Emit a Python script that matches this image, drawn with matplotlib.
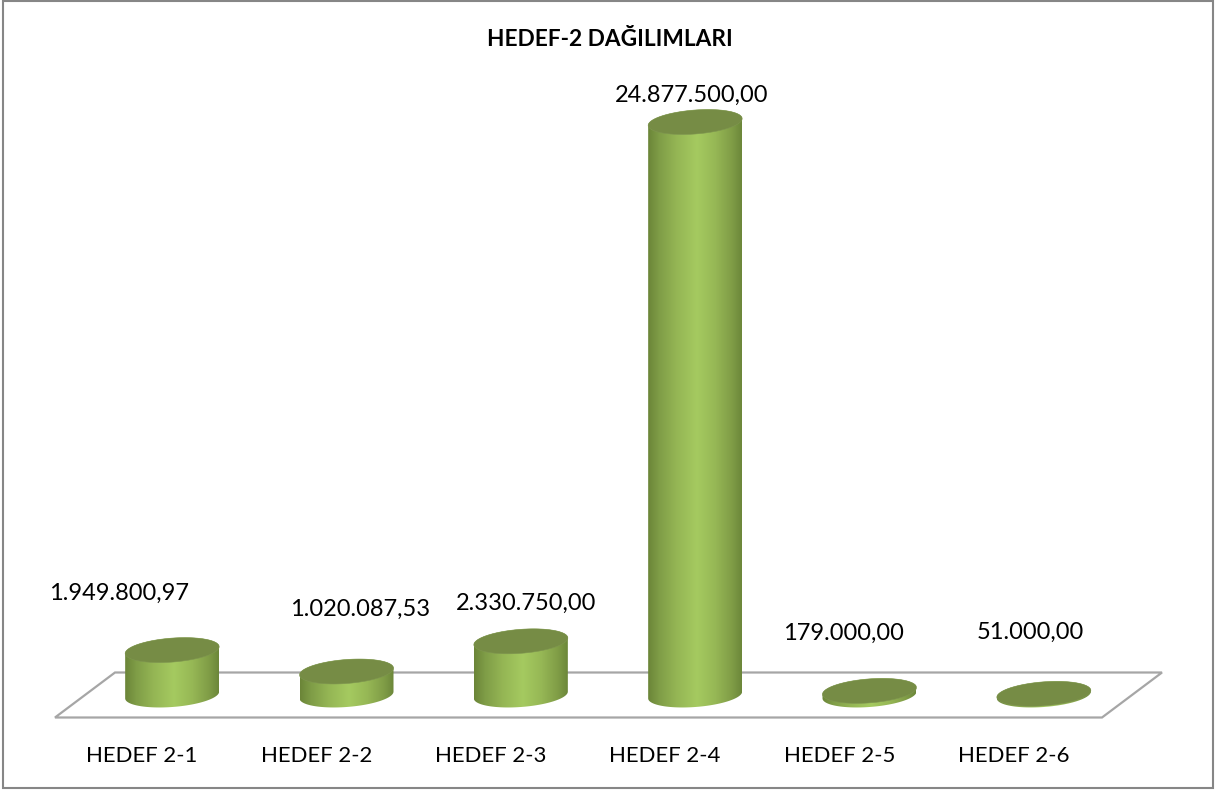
import numpy as np
import matplotlib
matplotlib.use("Agg")
import matplotlib.pyplot as plt
from matplotlib.colors import LinearSegmentedColormap
from matplotlib.patches import Polygon, Rectangle
from matplotlib.transforms import Affine2D

categories = ["HEDEF 2-1", "HEDEF 2-2", "HEDEF 2-3", "HEDEF 2-4", "HEDEF 2-5", "HEDEF 2-6"]
values = [1949800.97, 1020087.53, 2330750.00, 24877500.00, 179000.00, 51000.00]
title = "HEDEF-2 DAĞILIMLARI"

W, H = 1215, 790
plt.rcParams['font.family'] = ['Lato', 'DejaVu Sans']
fig = plt.figure(figsize=(W / 100, H / 100), dpi=100, facecolor="white")

# top-left pixel space helper
px = Affine2D().scale(1, -1).translate(0, H)

X0, X1, Y_BASE, Y_TOP = 85, 1131, 695, 122
ax = fig.add_axes([X0 / W, 1 - Y_BASE / H, (X1 - X0) / W, (Y_BASE - Y_TOP) / H])
ax.set_xlim(-0.5, 5.5)
ax.set_ylim(0, max(values))
ax.patch.set_alpha(0)
for s in ax.spines.values():
    s.set_visible(False)
ax.set_yticks([])
x_pos = np.arange(len(categories))
ax.set_xticks(x_pos - 30 / 174.4)
ax.set_xticklabels(categories, fontsize=15.9, color="black")
ax.tick_params(axis="x", length=0, pad=37)

# outer frame
fig.add_artist(Rectangle((3, 1), 1210, 787, transform=px, fill=False,
                         edgecolor="#868686", linewidth=1.5))
# floor
ax.add_patch(Polygon([(55, 717.5), (115, 672.5), (1162, 672.5), (1102, 717.5)], closed=True,
                     transform=px, fill=False, edgecolor="#a6a6a6", linewidth=1.6,
                     clip_on=False, zorder=1))

cmap = LinearSegmentedColormap.from_list("cyl", [
    (0.0, "#6b8538"), (0.12, "#7f9d47"), (0.3, "#94b554"), (0.52, "#a5ca60"),
    (0.72, "#96b755"), (0.9, "#7f9c46"), (1.0, "#6c873a")])
grad = np.linspace(0, 1, 256)[None, :]

A, B, SLOPE = 47.0, 12.0, 0.072
t_top = np.linspace(0, 2 * np.pi, 160)


def ell(cx, cy, t):
    return np.column_stack([cx + A * np.cos(t), cy - A * SLOPE * np.cos(t) + B * np.sin(t)])


for i, v in enumerate(values):
    to_disp = ax.transData.transform
    base_x, base_y = to_disp((i, 0))
    top_x, top_y = to_disp((i, v))
    cx = base_x
    cy_b = H - base_y
    cy_t = H - top_y
    lower = ell(cx, cy_b, np.linspace(np.pi, 0, 80))  # bottom arc, left to right
    upper = ell(cx, cy_t, np.linspace(0, -np.pi, 80))  # top arc, right to left
    body = Polygon(np.vstack([lower, upper]), closed=True, transform=px, facecolor="none",
                   edgecolor="none")
    ax.add_patch(body)
    body.set_clip_on(False)
    im = ax.imshow(grad, cmap=cmap, aspect="auto", interpolation="bilinear",
                   extent=(cx - A, cx + A, cy_b + 20, cy_t - 20), transform=px, zorder=2)
    im.set_clip_box(fig.bbox)
    im.set_clip_path(body)
    ax.add_patch(Polygon(ell(cx, cy_t, t_top), closed=True, transform=px, facecolor="#768c45",
                         edgecolor="#7f9650", linewidth=0.4, zorder=3, clip_on=False))
ax.set_xlim(-0.5, 5.5)
ax.set_ylim(0, max(values))


def tr(v):
    return f"{v:,.2f}".replace(",", "#").replace(".", ",").replace("#", ".")


label_px = [(119, 593), (360, 609), (526, 603), (692, 95), (843, 633), (1030, 632)]
for v, (lx, ly) in zip(values, label_px):
    ax.text(lx, ly, tr(v), transform=px, ha="center", va="center", fontsize=17.0,
            color="black", clip_on=False)

fig.text(610 / W, 1 - 39 / H, title, ha="center", va="center", fontsize=16.3,
         fontweight="bold", color="black")

fig.savefig("out.png", dpi=100, facecolor="white")
